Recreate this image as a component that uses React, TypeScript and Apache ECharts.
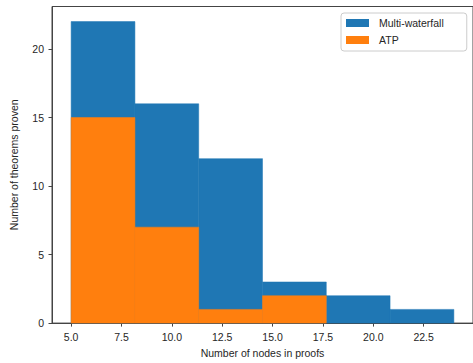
import React, { useEffect, useRef } from "react";
import * as echarts from "echarts";

const binEdges = [5, 8.1667, 11.3333, 14.5, 17.6667, 20.8333, 24];
const multiWaterfall = [22, 16, 12, 3, 2, 1];
const atp = [15, 7, 1, 2, 0, 0];
const xTicks = [5, 7.5, 10, 12.5, 15, 17.5, 20, 22.5];
const yTicks = [0, 5, 10, 15, 20];

const FONT = "'Liberation Sans', Arial, sans-serif";
const TEXT = "#262626";
const SPINE = "#444444";

function toData(counts: number[]) {
  return counts.map((c, i) => [binEdges[i], binEdges[i + 1], c]);
}

function renderHist(params: any, api: any) {
  const x0 = api.value(0);
  const x1 = api.value(1);
  const c = api.value(2);
  if (!c) return null;
  const p0 = api.coord([x0, c]);
  const p1 = api.coord([x1, 0]);
  const color = api.visual("color");
  return {
    type: "rect",
    shape: { x: p0[0], y: p0[1], width: p1[0] - p0[0], height: p1[1] - p0[1] },
    style: { fill: color, stroke: color, lineWidth: 0.5 },
  };
}

export default function App() {
  const ref = useRef<HTMLDivElement>(null);
  useEffect(() => {
    document.body.style.margin = "0";
    const chart = echarts.init(ref.current!, null, { renderer: "svg" });
    chart.setOption({
      animation: false,
      backgroundColor: "#ffffff",
      textStyle: { fontFamily: FONT },
      grid: {
        left: 50,
        top: 6.5,
        width: 425,
        bottom: 39.7,
        show: true,
        borderColor: SPINE,
        borderWidth: 1,
        backgroundColor: "transparent",
      },
      legend: {
        orient: "vertical",
        left: 341,
        top: 13,
        padding: [4, 23, 5, 5],
        itemWidth: 23,
        itemHeight: 8,
        itemGap: 5,
        borderColor: "#cccccc",
        borderWidth: 1,
        borderRadius: 3,
        backgroundColor: "rgba(255,255,255,0.8)",
        textStyle: { fontSize: 10.5, color: TEXT, fontFamily: FONT, lineHeight: 12, padding: [0, 0, 0, 5] },
        data: [
          { name: "Multi-waterfall", icon: "rect" },
          { name: "ATP", icon: "rect" },
        ],
      },
      xAxis: {
        type: "value",
        min: 4.05,
        max: 24.95,
        name: "Number of nodes in proofs",
        nameLocation: "middle",
        nameGap: 23,
        nameTextStyle: { fontSize: 10.5, color: TEXT, fontFamily: FONT },
        axisLine: { show: true, lineStyle: { color: SPINE, width: 1 } },
        axisTick: { show: true, length: 3.5, lineStyle: { color: SPINE }, customValues: xTicks },
        axisLabel: {
          fontSize: 10.5,
          color: TEXT,
          fontFamily: FONT,
          margin: 8,
          customValues: xTicks,
          formatter: (v: number) => v.toFixed(1),
        },
        splitLine: { show: false },
      },
      yAxis: {
        type: "value",
        min: 0,
        max: 23.1,
        name: "Number of theorems proven",
        nameLocation: "middle",
        nameGap: 33,
        nameTextStyle: { fontSize: 10.5, color: TEXT, fontFamily: FONT },
        axisLine: { show: true, lineStyle: { color: SPINE, width: 1 } },
        axisTick: { show: true, length: 3.5, lineStyle: { color: SPINE }, customValues: yTicks },
        axisLabel: {
          fontSize: 10.5,
          color: TEXT,
          fontFamily: FONT,
          margin: 8,
          customValues: yTicks,
        },
        splitLine: { show: false },
      },
      series: [
        {
          name: "Multi-waterfall",
          type: "custom",
          renderItem: renderHist,
          itemStyle: { color: "#1f77b4" },
          encode: { x: [0, 1], y: 2 },
          data: toData(multiWaterfall),
        },
        {
          name: "ATP",
          type: "custom",
          renderItem: renderHist,
          itemStyle: { color: "#ff7f0e" },
          encode: { x: [0, 1], y: 2 },
          data: toData(atp),
        },
      ],
    });
    return () => chart.dispose();
  }, []);
  return <div ref={ref} style={{ width: 473, height: 363 }} />;
}
